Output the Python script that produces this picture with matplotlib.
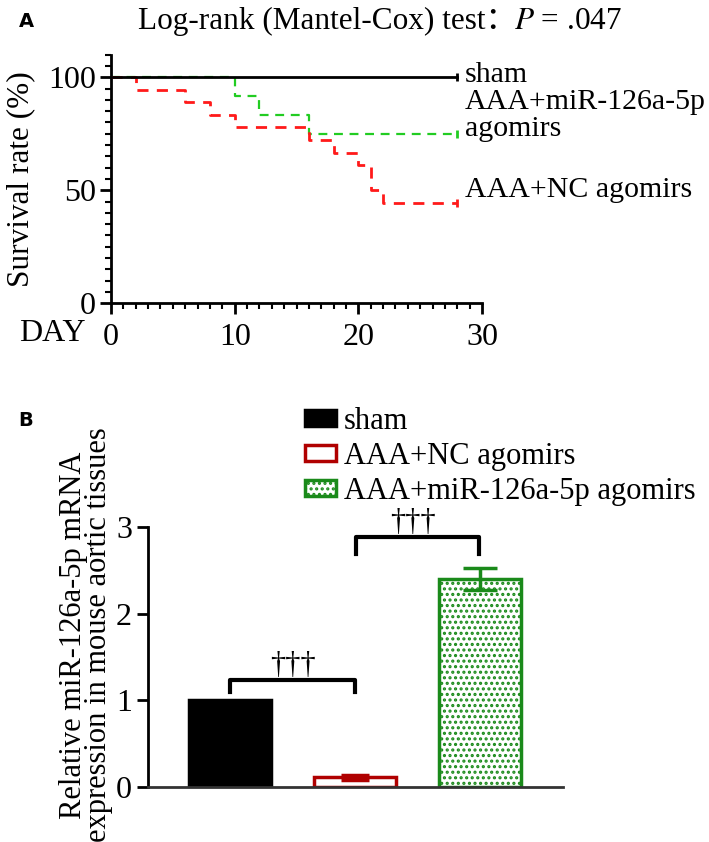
import numpy as np
import matplotlib.pyplot as plt

plt.rcParams['font.family'] = ['Liberation Serif', 'Noto Sans CJK SC']
plt.rcParams['mathtext.fontset'] = 'stix'

# panel A: Kaplan-Meier steps (day, survival %)
sham_days = [0, 28]
sham_surv = [100, 100]
nc_days = [0, 2, 6, 8, 10, 16, 18, 20, 21, 22, 28]
nc_surv = [100, 94.4, 88.9, 83.3, 77.8, 72.2, 66.7, 61.1, 50.0, 44.4, 44.4]
mir_days = [0, 10, 12, 16, 28]
mir_surv = [100, 91.7, 83.3, 75.0, 75.0]

# panel B: relative expression
groups = ["sham", "AAA+NC agomirs", "AAA+miR-126a-5p agomirs"]
expr = [1.0, 0.11, 2.40]
expr_err = [0.0, 0.03, 0.13]

fig = plt.figure(figsize=(7.09, 8.42), dpi=100)

# ---------------- panel A ----------------
ax = fig.add_axes([0.1566, 0.640, 0.5233, 0.295])
ax.step(mir_days, mir_surv, where='post', color='#22cc22', lw=1.6, ls=(0, (4, 3)), zorder=2)
ax.step(nc_days, nc_surv, where='post', color='#ff1a1a', lw=2.0, ls=(0, (4, 3)), zorder=3)
ax.plot(sham_days, sham_surv, color='black', lw=2.0, zorder=4)
# censor ticks at end
ax.plot([28], [100], marker='|', color='black', ms=6, mew=2)
ax.plot([28], [75], marker='|', color='#22cc22', ms=6, mew=2)
ax.plot([28], [44.4], marker='|', color='#ff1a1a', ms=6, mew=2)

ax.set_xlim(0, 30)
ax.set_ylim(0, 110)
ax.spines['top'].set_visible(False)
ax.spines['right'].set_visible(False)
ax.spines['left'].set_linewidth(2)
ax.spines['bottom'].set_linewidth(2)
ax.set_xticks([0, 10, 20, 30])
ax.set_xticks(np.arange(0, 31, 1), minor=True)
ax.set_yticks([0, 50, 100])
ax.set_yticks(np.arange(0, 111, 5), minor=True)
ax.tick_params(axis='both', which='major', length=8, width=2, labelsize=23, pad=3)
ax.tick_params(axis='both', which='minor', length=4, width=1.5)
ax.tick_params(axis='x', which='major', pad=6)
ax.set_ylabel("Survival rate (%)", fontsize=22.5)
ax.yaxis.set_label_coords(-0.205, 0.5)

ax.text(28.6, 101, "sham", fontsize=21.5, va='center', ha='left')
ax.text(28.6, 89, "AAA+miR-126a-5p", fontsize=21.5, va='center', ha='left')
ax.text(28.6, 77, "agomirs", fontsize=21.5, va='center', ha='left')
ax.text(28.6, 50, "AAA+NC agomirs", fontsize=21.5, va='center', ha='left')

fig.text(0.027, 0.604, "DAY", fontsize=23, va='center', ha='left')
fig.text(0.026, 0.975, "A", fontsize=14, fontweight='bold', family='DejaVu Sans', va='center')
t1 = fig.text(0.195, 0.975, "Log-rank (Mantel-Cox) test：", fontsize=22.5,
              va='center', ha='left')
fig.text(0, 0, "", fontsize=1)
ax.annotate(r"$P$ = .047", xy=(1, 0.5), xycoords=t1, xytext=(-2, 0),
            textcoords='offset points', fontsize=22.5, va='center', ha='left',
            annotation_clip=False)

# ---------------- panel B ----------------
bx = fig.add_axes([0.2087, 0.0653, 0.5853, 0.3087])
x = np.arange(len(groups))
w = 0.656
plt.rcParams['hatch.color'] = '#2aa82a'
plt.rcParams['hatch.linewidth'] = 1.5
bx.bar(x[0], expr[0], w, color='black', edgecolor='black', lw=2.5, label=groups[0], zorder=2)
bx.bar(x[1], expr[1], w, yerr=expr_err[1], color='white', edgecolor='#b00000', lw=2.5,
       ecolor='#b00000', capsize=10, error_kw=dict(elinewidth=2.5, capthick=2.5),
       label=groups[1], zorder=2)
bx.bar(x[2], expr[2], w, yerr=expr_err[2], color='white', edgecolor='#1a8a1a', lw=2.5,
       hatch='...', ecolor='#1a8a1a', capsize=12, error_kw=dict(elinewidth=2.5, capthick=2.5),
       label=groups[2], zorder=2)

bx.set_xlim(-0.656, 2.66)
bx.set_ylim(0, 3)
bx.spines['top'].set_visible(False)
bx.spines['right'].set_visible(False)
bx.spines['left'].set_linewidth(2)
bx.spines['bottom'].set_linewidth(2)
bx.spines['bottom'].set_color('#333333')
bx.set_xticks([])
bx.set_yticks([0, 1, 2, 3])
bx.tick_params(axis='y', length=8, width=2, labelsize=23)
bx.set_ylabel("Relative miR-126a-5p mRNA\nexpression in mouse aortic tissues",
              fontsize=22, linespacing=0.8)
bx.yaxis.set_label_coords(-0.085, 0.585)

# significance brackets
bx.plot([0.0, 0.0, 1.0, 1.0], [1.10, 1.24, 1.24, 1.10], color='black', lw=3, clip_on=False)
bx.text(0.5, 1.40, "†††", fontsize=22, ha='center', va='center')
bx.plot([1.01, 1.01, 1.99, 1.99], [2.69, 2.89, 2.89, 2.69], color='black', lw=3, clip_on=False)
bx.text(1.46, 3.05, "†††", fontsize=22, ha='center', va='center', clip_on=False)

bx.legend(loc='upper left', bbox_to_anchor=(0.35, 1.51), frameon=False, fontsize=22,
          handlelength=1.0, handleheight=0.45, handletextpad=0.25, labelspacing=0.2,
          borderaxespad=0)

fig.text(0.026, 0.5, "B", fontsize=14, fontweight='bold', family='DejaVu Sans', va='center')

fig.savefig("out.png", dpi=100)
